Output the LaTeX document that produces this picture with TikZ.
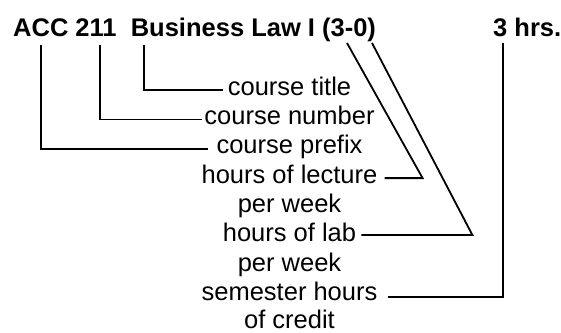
\documentclass[tikz,border=0pt]{standalone}
\usepackage{fontspec}
\setmainfont{Liberation Sans}
\begin{document}
\begin{tikzpicture}[x=1pt,y=-1pt,
  lbl/.style={inner sep=0pt,anchor=base,text height=10pt,text depth=0pt,font=\fontsize{25.5}{30}\selectfont},
  hdr/.style={inner sep=0pt,anchor=base west,font=\fontsize{25.5}{30}\selectfont\bfseries},
  conn/.style={line width=1.8pt,line join=miter}]
\useasboundingbox[fill=white] (0,0) rectangle (561,332);
\node[hdr] (title) at (13,36.5) {ACC 211~~Business Law I (3-0)};
\node[hdr] (hrs) at (493,36.5) {3 hrs.};
\node[lbl] (ctitle) at (289.5,95) {course title};
\node[lbl] (cnum) at (289.5,124.4) {course number};
\node[lbl] (cpre) at (289.5,153.75) {course prefix};
\node[lbl] (lect) at (289.5,183.1) {hours of lecture};
\node[lbl] (pw1) at (289.5,212.5) {per week};
\node[lbl] (lab) at (289.5,241.9) {hours of lab};
\node[lbl] (pw2) at (289.5,271.25) {per week};
\node[lbl] (sem) at (289.5,300.6) {semester hours};
\node[lbl] (cred) at (289.5,328.5) {of credit};
\coordinate (tA) at (41,45);
\coordinate (tN) at (100,45);
\coordinate (tB) at (144,45);
\coordinate (tL) at (347,43);
\coordinate (tR) at (372,43);
\coordinate (tH) at (503,43);
\draw[conn] (tB) |- ([xshift=-5pt]ctitle.west);
\draw[conn] (tN) |- ([xshift=-2pt]cnum.west);
\draw[conn] (tA) |- ([xshift=-8pt]cpre.west);
\draw[conn] (tL) -- ([xshift=45pt]lect.east) -- ([xshift=7pt]lect.east);
\draw[conn] (tR) -- ([xshift=116pt,yshift=2pt]lab.east) -- ([xshift=5pt,yshift=2pt]lab.east);
\draw[conn] (tH) |- ([xshift=10pt,yshift=-1pt]sem.east);
\end{tikzpicture}
\end{document}
